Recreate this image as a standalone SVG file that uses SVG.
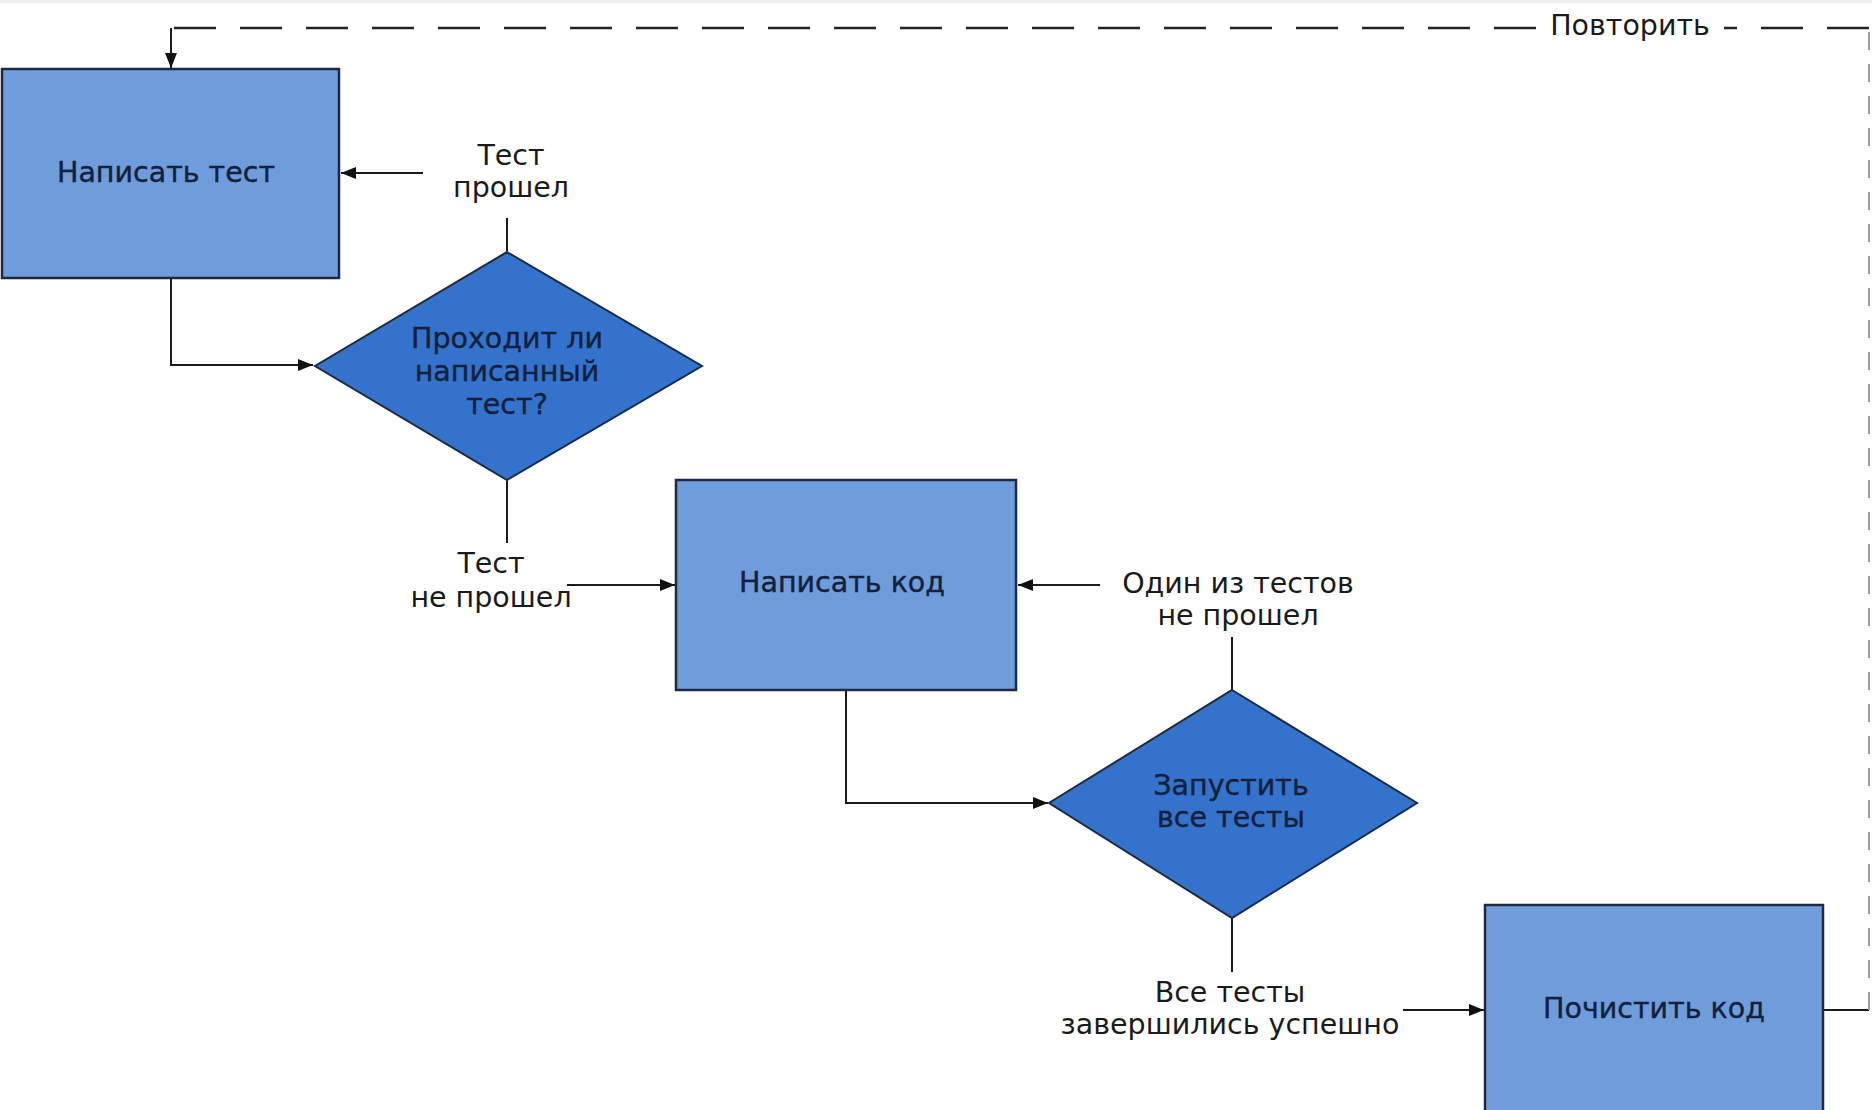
<svg xmlns="http://www.w3.org/2000/svg" width="1872" height="1110" viewBox="0 0 1872 1110">
<defs>
<marker id="arr" viewBox="0 0 15 12" refX="15" refY="6" markerWidth="15" markerHeight="12" markerUnits="userSpaceOnUse" orient="auto">
<path d="M0,0 L15,6 L0,12 z" fill="#111"/>
</marker>
<style>
.box{fill:#6f9cda;stroke:#1e2a44;stroke-width:2.5}
.dia{fill:#3473cc;stroke:#1e2a44;stroke-width:2}
.nt{font-family:"DejaVu Sans",Verdana,sans-serif;font-size:28.5px;fill:#15203c;stroke:#15203c;stroke-width:0.4;text-anchor:middle}
.lb{font-family:"DejaVu Sans",Verdana,sans-serif;font-size:28.5px;fill:#1a1a1a;text-anchor:middle}
.ln{fill:none;stroke:#1a1a1a;stroke-width:2}
.dash{fill:none;stroke:#222;stroke-width:2.5;stroke-dasharray:42 24}
.dashg{fill:none;stroke:#a0a0a0;stroke-width:2;stroke-dasharray:18 14}
</style>
</defs>
<rect x="0" y="0" width="1872" height="1110" fill="#ffffff"/>
<rect x="0" y="0" width="1872" height="3" fill="#efefef"/>

<g id="connectors">
<path class="ln" d="M1823,1010 L1869,1010"/>
<path class="dashg" d="M1869,1010 L1869,28"/>
<path class="dash" d="M1869,28 L1724,28"/>
<path class="dash" d="M1536,28 L171,28"/>
<path class="ln" d="M171,28 L171,68" marker-end="url(#arr)"/>
<path class="ln" d="M423,173 L341,173" marker-end="url(#arr)"/>
<path class="ln" d="M507,251 L507,218"/>
<path class="ln" d="M171,278 L171,365 L313,365" marker-end="url(#arr)"/>
<path class="ln" d="M507,481 L507,543"/>
<path class="ln" d="M567,585 L675,585" marker-end="url(#arr)"/>
<path class="ln" d="M1100,585 L1018,585" marker-end="url(#arr)"/>
<path class="ln" d="M1232,690 L1232,637"/>
<path class="ln" d="M846,690 L846,803 L1048,803" marker-end="url(#arr)"/>
<path class="ln" d="M1232,918 L1232,972"/>
<path class="ln" d="M1403,1010 L1484,1010" marker-end="url(#arr)"/>
<text class="lb" x="1630" y="35">Повторить</text>
<text class="lb" x="511" y="165">Тест</text>
<text class="lb" x="511" y="197">прошел</text>
<text class="lb" x="491" y="573">Тест</text>
<text class="lb" x="491" y="607">не прошел</text>
<text class="lb" x="1238" y="593">Один из тестов</text>
<text class="lb" x="1238" y="625">не прошел</text>
<text class="lb" x="1230" y="1002">Все тесты</text>
<text class="lb" x="1230" y="1034">завершились успешно</text>
</g>

<g id="n-write-test">
<rect class="box" x="2" y="69" width="337" height="209"/>
<text class="nt" x="166" y="182">Написать тест</text>
</g>

<g id="n-test-pass">
<polygon class="dia" points="507,252 702,366 507,480 315,366"/>
<text class="nt" x="507" y="348">Проходит ли</text>
<text class="nt" x="507" y="381">написанный</text>
<text class="nt" x="507" y="414">тест?</text>
</g>

<g id="n-write-code">
<rect class="box" x="676" y="480" width="340" height="210"/>
<text class="nt" x="842" y="592">Написать код</text>
</g>

<g id="n-run-tests">
<polygon class="dia" points="1232,690 1417,803 1232,918 1049,803"/>
<text class="nt" x="1231" y="795">Запустить</text>
<text class="nt" x="1231" y="827">все тесты</text>
</g>

<g id="n-clean">
<rect class="box" x="1485" y="905" width="338" height="215"/>
<text class="nt" x="1654" y="1018">Почистить код</text>
</g>
</svg>
